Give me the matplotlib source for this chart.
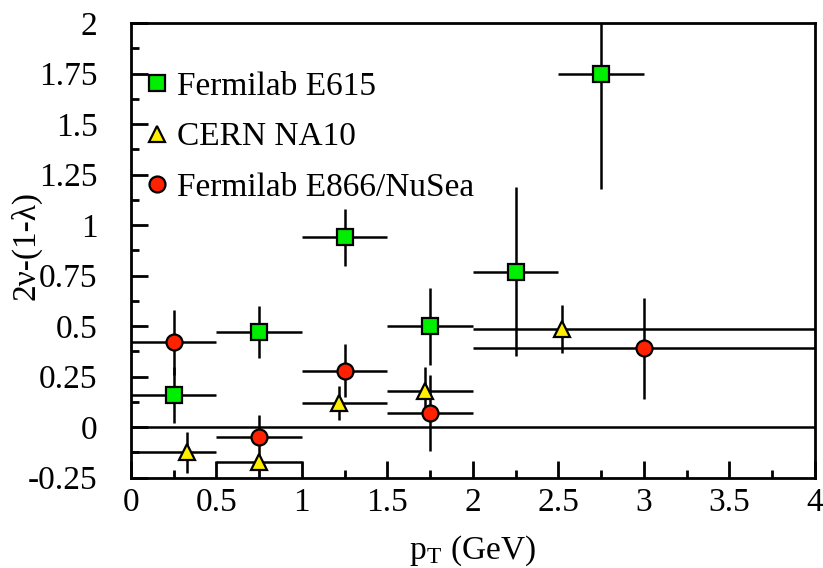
import numpy as np
import matplotlib.pyplot as plt
from matplotlib.lines import Line2D
from matplotlib.ticker import MultipleLocator

plt.rcParams['font.family'] = ['Liberation Serif', 'DejaVu Serif']
plt.rcParams['mathtext.fontset'] = 'stix'

# Fermilab E615
e615_x = [0.25, 0.75, 1.25, 1.75, 2.25, 2.75]
e615_y = [0.16, 0.47, 0.94, 0.50, 0.77, 1.75]
e615_dy = [0.14, 0.13, 0.14, 0.19, 0.42, 0.57]
e615_xlo = [0.25, 0.25, 0.25, 0.25, 0.25, 0.25]
e615_xhi = [0.25, 0.25, 0.25, 0.25, 0.25, 0.25]

# CERN NA10
na10_x = [0.33, 0.75, 1.22, 1.72, 2.52]
na10_y = [-0.125, -0.17, 0.12, 0.18, 0.485]
na10_dy = [0.10, 0.03, 0.085, 0.12, 0.12]
na10_xlo = [0.33, 0.25, 0.22, 0.22, 0.52]
na10_xhi = [0.17, 0.25, 0.28, 0.28, 1.48]

# Fermilab E866/NuSea
e866_x = [0.25, 0.75, 1.25, 1.75, 3.0]
e866_y = [0.42, -0.05, 0.28, 0.07, 0.39]
e866_dy = [0.16, 0.11, 0.13, 0.19, 0.25]
e866_xlo = [0.25, 0.25, 0.25, 0.25, 1.0]
e866_xhi = [0.25, 0.25, 0.25, 0.25, 1.0]

fs = 24
ms = 11.5

fig = plt.figure(figsize=(8.23, 5.68), dpi=100)
ax = fig.add_axes([0.159, 0.159, 0.831, 0.8005])

lw = 1.8
ax.axhline(0, color='k', lw=lw, zorder=1)

ax.errorbar(e615_x, e615_y, yerr=e615_dy, xerr=[e615_xlo, e615_xhi], fmt='s',
            ms=ms, mfc='#00ee00', mec='k', mew=1.6, ecolor='k', elinewidth=lw,
            capsize=0, zorder=3)
ax.errorbar(na10_x, na10_y, yerr=na10_dy, xerr=[na10_xlo, na10_xhi], fmt='^',
            ms=ms, mfc='#ffee00', mec='k', mew=1.6, ecolor='k', elinewidth=lw,
            capsize=0, zorder=3)
ax.errorbar(e866_x, e866_y, yerr=e866_dy, xerr=[e866_xlo, e866_xhi], fmt='o',
            ms=ms, mfc='#ff2200', mec='k', mew=1.6, ecolor='k', elinewidth=lw,
            capsize=0, zorder=3)

ax.set_xlim(0, 4)
ax.set_ylim(-0.25, 2)
ax.xaxis.set_minor_locator(MultipleLocator(0.25))
ax.yaxis.set_minor_locator(MultipleLocator(0.125))
xt = np.arange(0, 4.01, 0.5)
ax.set_xticks(xt)
ax.set_xticklabels(['%g' % v for v in xt])
yt = np.arange(-0.25, 2.01, 0.25)
ax.set_yticks(yt)
ax.set_yticklabels(['%g' % v for v in yt])
ax.tick_params(which='major', direction='in', length=12, width=2, labelsize=fs,
               top=False, right=False)
ax.tick_params(axis='x', which='major', pad=7)
ax.tick_params(axis='y', which='major', pad=24)
ax.tick_params(which='minor', direction='in', length=6, width=2,
               top=False, right=False)
for s in ax.spines.values():
    s.set_linewidth(2)

ax.set_xlabel(r'p$_\mathregular{T}$ (GeV)', fontsize=fs)
ax.xaxis.set_label_coords(0.5, -0.122)
ax.set_ylabel('2ν-(1-λ)', fontsize=fs)
ax.yaxis.set_label_coords(-0.13, 0.51)

handles = [
    Line2D([], [], ls='none', marker='s', ms=ms, mfc='#00ee00', mec='k', mew=1.6),
    Line2D([], [], ls='none', marker='^', ms=ms, mfc='#ffee00', mec='k', mew=1.6),
    Line2D([], [], ls='none', marker='o', ms=ms, mfc='#ff2200', mec='k', mew=1.6),
]
ax.legend(handles, ['Fermilab E615', 'CERN NA10', 'Fermilab E866/NuSea'],
          loc='upper left', bbox_to_anchor=(-0.01, 0.945), frameon=False,
          fontsize=fs, handlelength=0.6, handletextpad=0.3, labelspacing=0.6,
          borderaxespad=0.3)

fig.savefig('out.png', dpi=100)
